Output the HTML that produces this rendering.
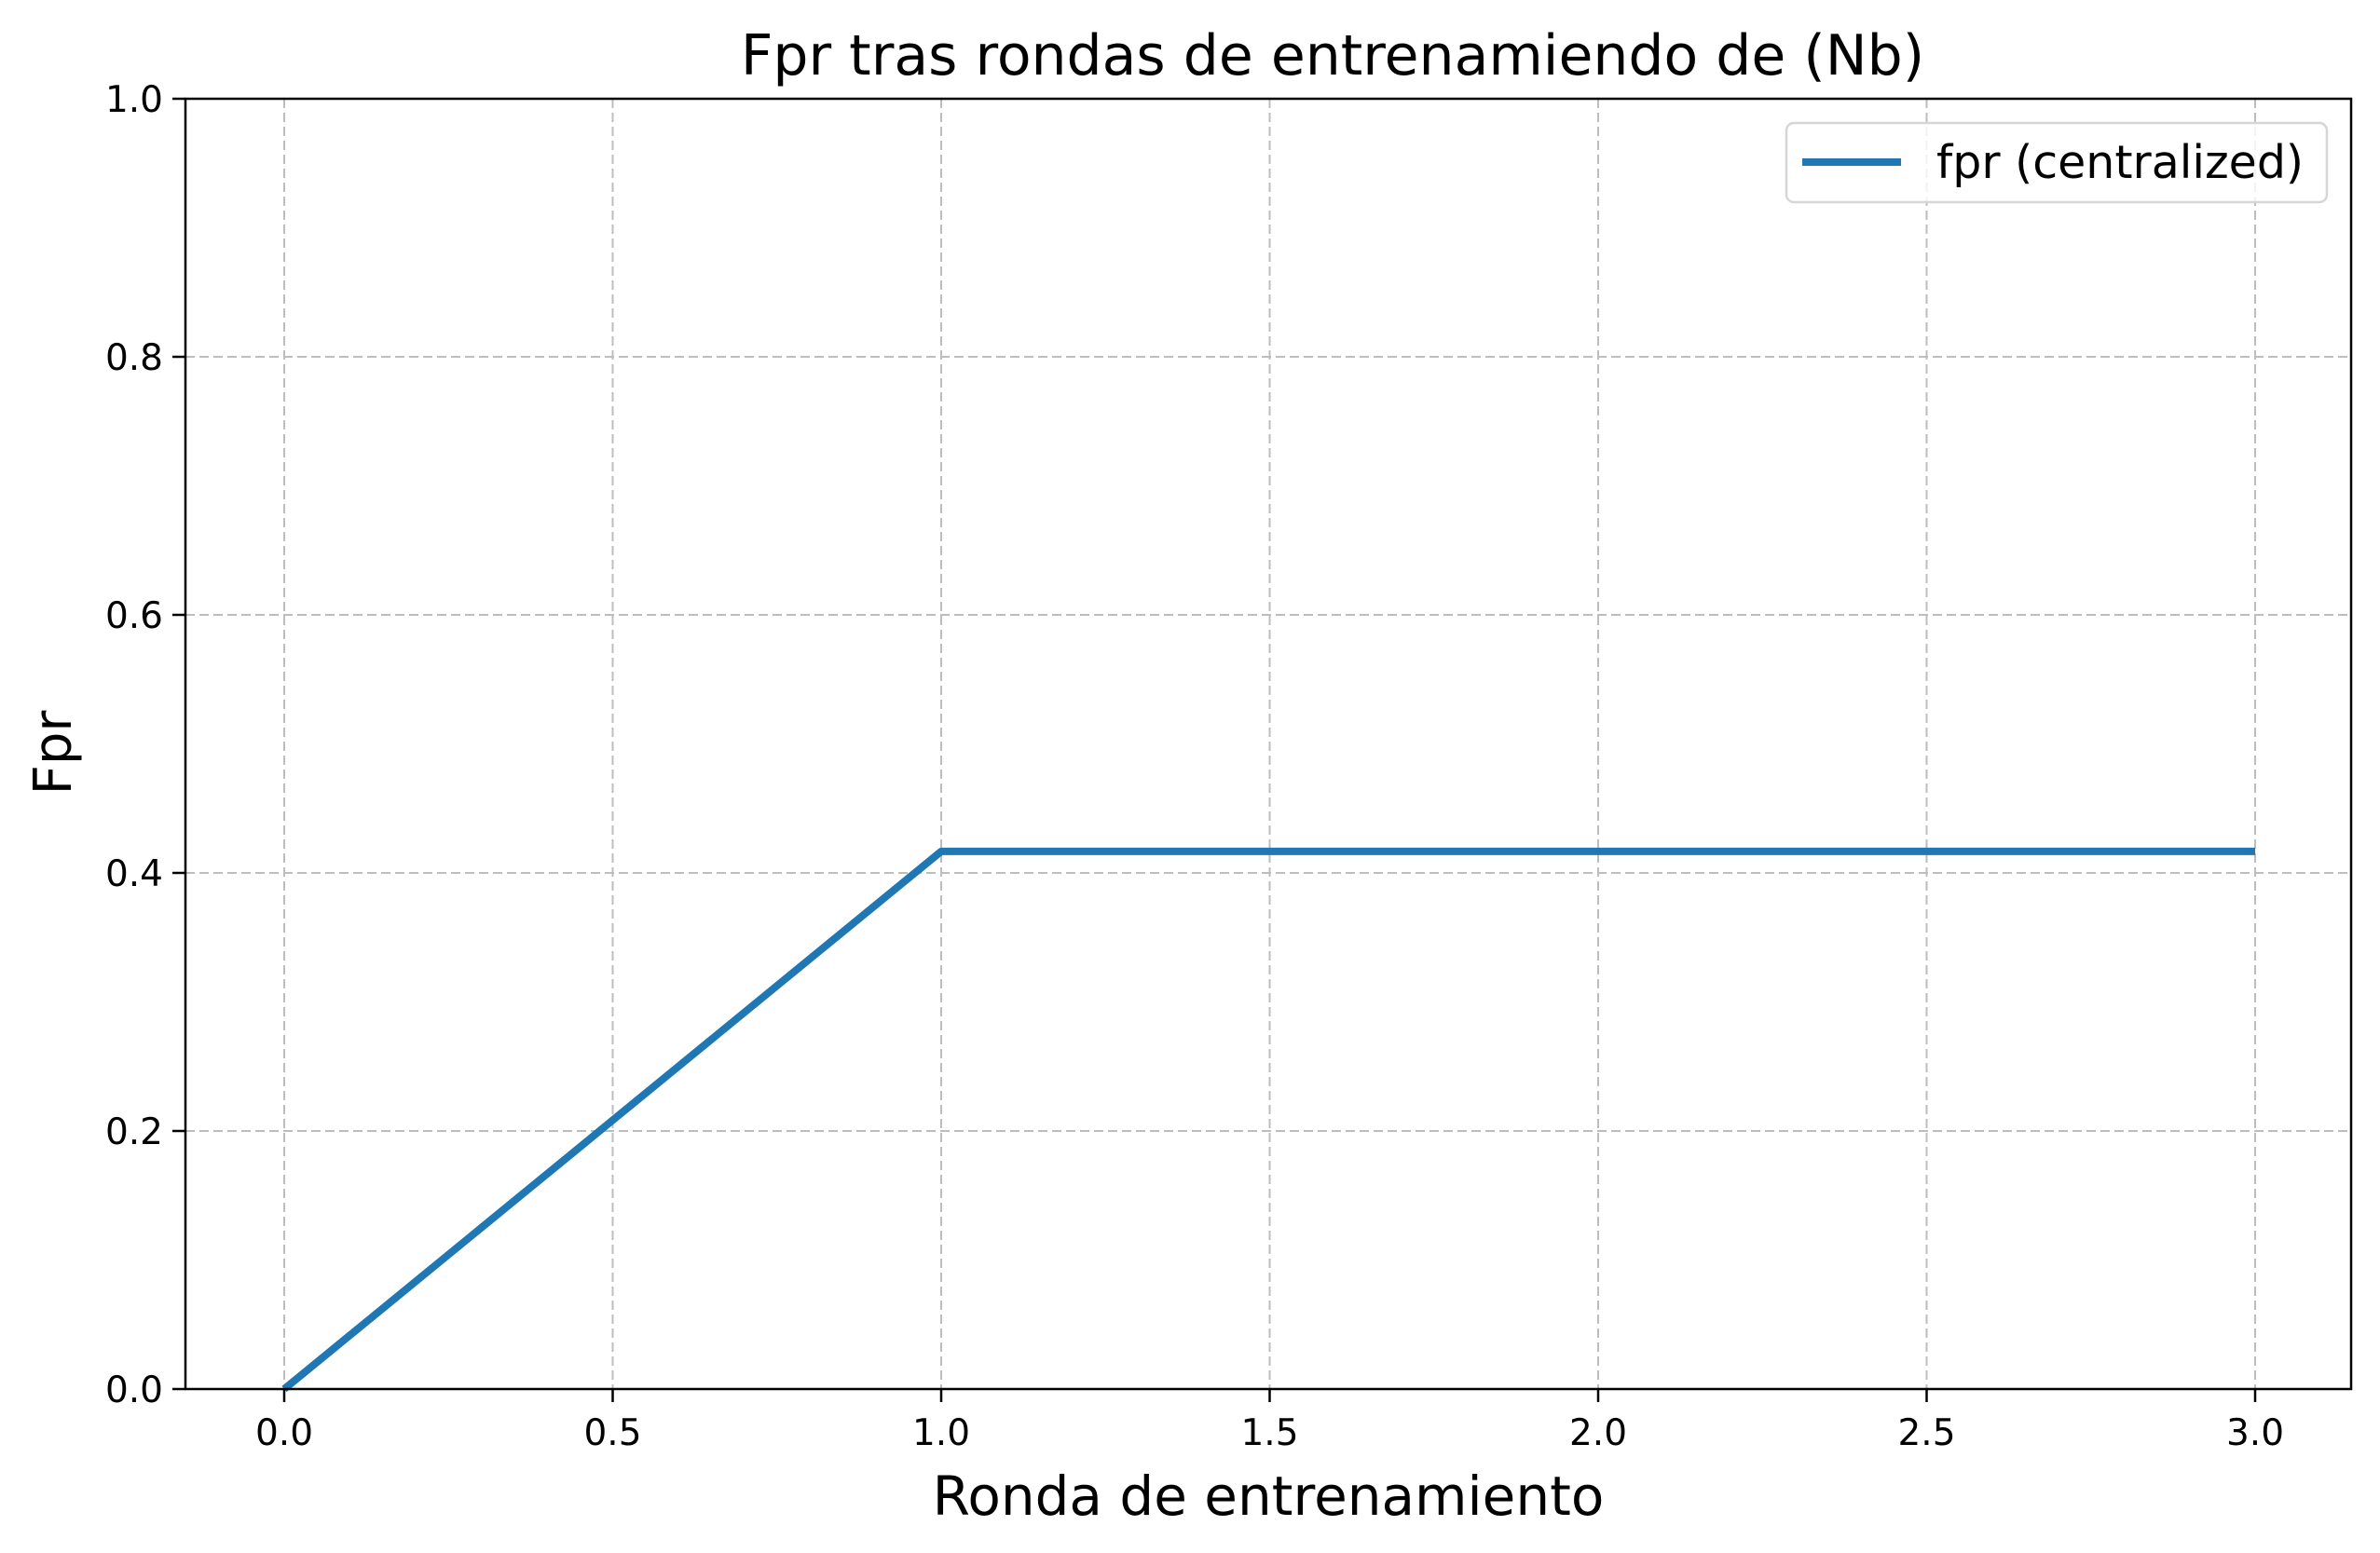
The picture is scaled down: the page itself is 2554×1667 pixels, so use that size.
<!DOCTYPE html>
<html><head><meta charset="utf-8"><style>
body{margin:0;background:#fff}
svg{display:block;font-family:"DejaVu Sans","Liberation Sans",sans-serif}
</style></head><body>
<svg id="c" width="2554" height="1667" viewBox="0 0 2554 1667"></svg>
<script>
const xValues=[0,1,2,3];
const fprValues=[0,0.4167,0.4167,0.4167];
const xTicks=[0,0.5,1,1.5,2,2.5,3];
const xTickLabels=["0.0","0.5","1.0","1.5","2.0","2.5","3.0"];
const yTicks=[0,0.2,0.4,0.6,0.8,1];
const yTickLabels=["0.0","0.2","0.4","0.6","0.8","1.0"];
const L=199,R=2523,T=106,B=1491;
const X0=305,X3=2420;
const sx=v=>X0+(X3-X0)*v/3;
const sy=v=>B-(B-T)*v;
const svg=document.getElementById('c');
const NS='http://www.w3.org/2000/svg';
function mk(t,a,p){const e=document.createElementNS(NS,t);for(const k in a)e.setAttribute(k,a[k]);(p||svg).appendChild(e);return e;}
xTicks.forEach((v,i)=>{
  const g=mk('line',{x1:sx(v),x2:sx(v),y1:T,y2:B,stroke:'#bdbdbd','stroke-width':2,'stroke-dasharray':'10,5'});
  
  
  const t=mk('line',{x1:sx(v),x2:sx(v),y1:B,y2:B+14,stroke:'#000','stroke-width':2.5});
  
  
  const l=mk('text',{x:sx(v),y:B+60,'font-size':39,'text-anchor':'middle',fill:'#000'});
  l.textContent=xTickLabels[i];
  
  
});
yTicks.forEach((v,i)=>{
  if(v>0&&v<1){const g=mk('line',{x1:L,x2:R,y1:sy(v),y2:sy(v),stroke:'#bdbdbd','stroke-width':2,'stroke-dasharray':'10,5'});
  
  }
  const t=mk('line',{x1:L-14,x2:L,y1:sy(v),y2:sy(v),stroke:'#000','stroke-width':2.5});
  
  
  const l=mk('text',{x:L-24,y:sy(v)+14,'font-size':39,'text-anchor':'end',fill:'#000'});
  l.textContent=yTickLabels[i];
  
  
});
const pl=mk('polyline',{points:xValues.map((x,i)=>sx(x)+','+sy(fprValues[i])).join(' '),fill:'none',stroke:'#1f77b4','stroke-width':8,'stroke-linejoin':'round'});


const f=mk('rect',{x:L,y:T,width:R-L,height:B-T,fill:'none',stroke:'#000','stroke-width':2.5});


const lg=mk('g',{});


mk('rect',{x:1917,y:132,width:580,height:85,rx:8,fill:'#fff','fill-opacity':0.8,stroke:'#d6d6d6','stroke-width':2.5},lg);
mk('line',{x1:1934,x2:2040,y1:174,y2:174,stroke:'#1f77b4','stroke-width':8},lg);
const lt=mk('text',{x:2078,y:191,'font-size':49,fill:'#000'},lg);
lt.textContent='fpr (centralized)';


const ti=mk('text',{x:1430,y:80,'font-size':60,'text-anchor':'middle',fill:'#000'});
ti.textContent='Fpr tras rondas de entrenamiendo de (Nb)';


const xl=mk('text',{x:1361,y:1626,'font-size':58,'text-anchor':'middle',fill:'#000'});
xl.textContent='Ronda de entrenamiento';


const yl=mk('text',{x:0,y:0,'font-size':56,'text-anchor':'middle',fill:'#000',transform:'translate(76,808) rotate(-90)'});
yl.textContent='Fpr';


</script>
</body></html>
